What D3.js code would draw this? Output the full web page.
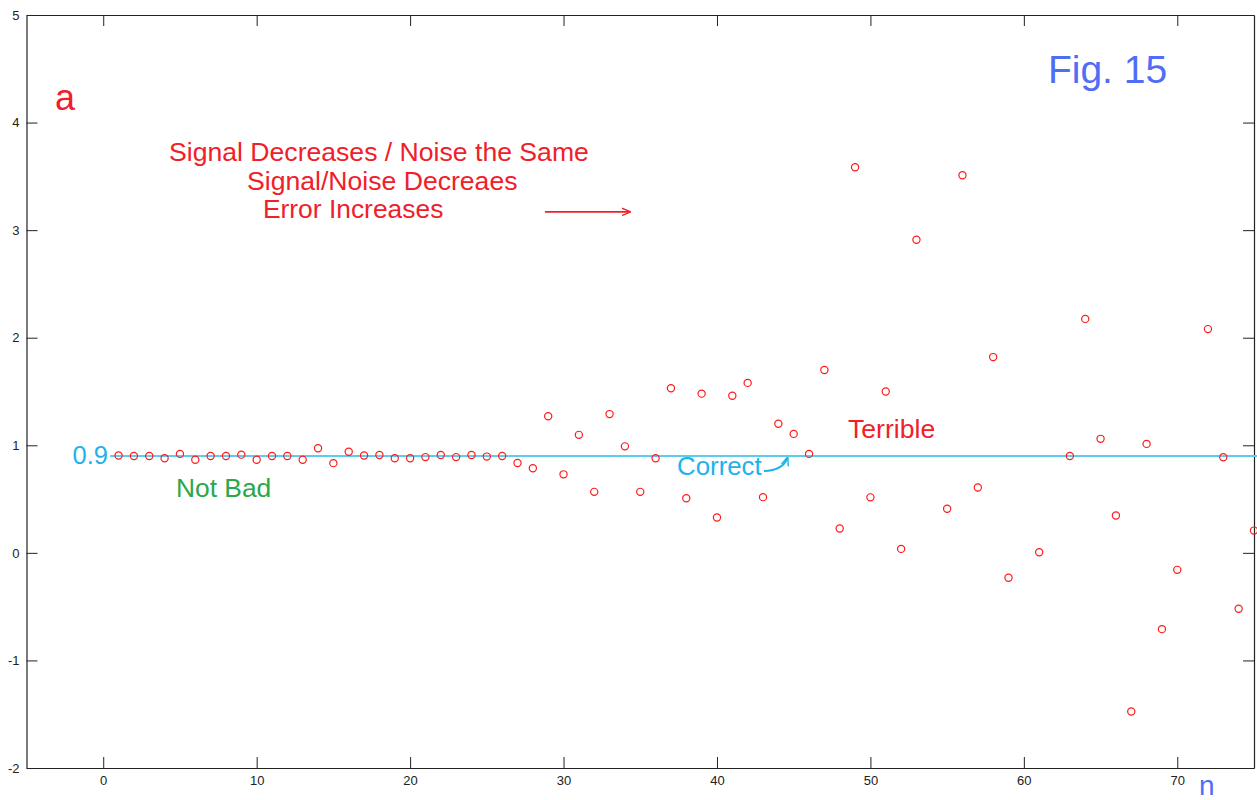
<!DOCTYPE html>
<html>
<head>
<meta charset="utf-8">
<script src="https://cdn.jsdelivr.net/npm/d3@7"></script>
<style>
  body { margin: 0; background: #fff; }
  svg { display: block; font-family: Arial, "Liberation Sans", sans-serif; }
  .axis path, .axis line { stroke: #222; }
  .axis text { fill: #222; }
</style>
</head>
<body>
<div id="chart"></div>
<script>
// sample index n = 1..75 (null = point falls outside the visible range)
var n_values = d3.range(1, 76);
var estimates = [
  0.905, 0.90, 0.90, 0.88, 0.92, 0.865, 0.90, 0.90, 0.913, 0.865,
  0.90, 0.90, 0.865, 0.973, 0.834, 0.94, 0.905, 0.91, 0.88, 0.88,
  0.89, 0.91, 0.89, 0.91, 0.895, 0.90, 0.836, 0.787, 1.27, 0.73,
  1.097, 0.567, 1.29, 0.99, 0.567, 0.88, 1.53, 0.508, 1.48, 0.328,
  1.46, 1.58, 0.518, 1.20, 1.106, 0.92, 1.70, 0.226, 3.585, 0.516,
  1.50, 0.037, 2.91, null, 0.41, 3.51, 0.607, 1.82, -0.232, null,
  0.006, null, 0.90, 2.175, 1.06, 0.347, -1.475, 1.013, -0.709, -0.158,
  null, 2.08, 0.889, -0.52, 0.207
];
var correct_value = 0.9;
var correct_span = [0.45, 75.2];
var x_ticks = [0, 10, 20, 30, 40, 50, 60, 70];
var y_ticks = [-2, -1, 0, 1, 2, 3, 4, 5];

var width = 1257, height = 800;
var svg = d3.select('#chart').append('svg').attr('width', width).attr('height', height);

var x_scale = d3.scaleLinear().domain([-5, 75]).range([26.5, 1254]);
var y_scale = d3.scaleLinear().domain([-2, 5]).range([768, 15]);
var plain = d => String(d); // keep the ascii minus like the original

// box axes, ticks pointing inward (matlab style)
svg.append('g').attr('class', 'axis')
    .attr('transform', 'translate(0,' + y_scale(-2) + ')')
    .call(d3.axisBottom(x_scale).tickValues(x_ticks).tickFormat(plain).tickSizeInner(-11).tickSizeOuter(0).tickPadding(8));
svg.append('g').attr('class', 'axis')
    .attr('transform', 'translate(0,' + y_scale(5) + ')')
    .call(d3.axisTop(x_scale).tickValues(x_ticks).tickSizeInner(-11).tickSizeOuter(0).tickFormat(''));
svg.append('g').attr('class', 'axis')
    .attr('transform', 'translate(' + x_scale(-5) + ',0)')
    .call(d3.axisLeft(y_scale).tickValues(y_ticks).tickFormat(plain).tickSizeInner(-11).tickSizeOuter(0).tickPadding(7));
svg.append('g').attr('class', 'axis')
    .attr('transform', 'translate(' + x_scale(75) + ',0)')
    .call(d3.axisRight(y_scale).tickValues(y_ticks).tickSizeInner(-11).tickSizeOuter(0).tickFormat(''));
svg.selectAll('.axis').attr('font-size', 13).attr('font-family', 'Arial, "Liberation Sans", sans-serif');
svg.selectAll('.axis .domain').attr('stroke-width', 1.2);

// correct value line
svg.append('line')
    .attr('x1', x_scale(correct_span[0])).attr('x2', x_scale(correct_span[1]))
    .attr('y1', y_scale(correct_value)).attr('y2', y_scale(correct_value))
    .attr('stroke', '#5ccdf0').attr('stroke-width', 2);

// estimates
var points = n_values.map((n, i) => [n, estimates[i]]).filter(d => d[1] !== null);
svg.append('g').selectAll('circle').data(points).enter().append('circle')
    .attr('cx', d => x_scale(d[0]))
    .attr('cy', d => y_scale(d[1]))
    .attr('r', 3.6)
    .attr('fill', 'none')
    .attr('stroke', '#ff1a1a')
    .attr('stroke-width', 1.2);

// annotations
var red = '#f0202a', cyan = '#1db3ea';
var labels = [
    { t: 'a', n: -3.14, v: 4.117, size: 36, color: red },
    { t: 'Signal Decreases / Noise the Same', n: 4.29, v: 3.643, size: 26.6, color: red },
    { t: 'Signal/Noise Decreaes', n: 9.37, v: 3.374, size: 26.6, color: red },
    { t: 'Error Increases', n: 10.41, v: 3.114, size: 26.4, color: red },
    { t: 'Fig. 15', n: 61.57, v: 4.368, size: 39, color: '#4f6ef5' },
    { t: '0.9', n: 0.31, v: 0.826, size: 25.5, color: cyan, anchor: 'end' },
    { t: 'Not Bad', n: 4.74, v: 0.52, size: 26.4, color: '#2aa84a' },
    { t: 'Correct', n: 37.4, v: 0.724, size: 25.8, color: cyan },
    { t: 'Terrible', n: 48.54, v: 1.068, size: 26.6, color: red },
    { t: 'n', n: 71.41, v: -2.255, size: 28, color: '#4f6ef5' }
];
svg.append('g').selectAll('text').data(labels).enter().append('text')
    .attr('x', d => x_scale(d.n))
    .attr('y', d => y_scale(d.v))
    .attr('text-anchor', d => d.anchor || 'start')
    .attr('font-size', d => d.size + 'px')
    .attr('fill', d => d.color)
    .text(d => d.t);

var defs = svg.append('defs');
function arrow_marker(id, color) {
    defs.append('marker').attr('id', id)
        .attr('viewBox', '0 0 10 10').attr('refX', 9).attr('refY', 5)
        .attr('markerWidth', 9).attr('markerHeight', 9).attr('orient', 'auto')
        .attr('markerUnits', 'userSpaceOnUse')
        .append('path').attr('d', 'M0,1 L10,5 L0,9').attr('fill', 'none').attr('stroke', color).attr('stroke-width', 1.6);
}
arrow_marker('arrow_red', red);
arrow_marker('arrow_cyan', cyan);

// straight arrow next to "Error Increases"
svg.append('line')
    .attr('x1', x_scale(28.79)).attr('x2', x_scale(34.33))
    .attr('y1', y_scale(3.17)).attr('y2', y_scale(3.17))
    .attr('stroke', red).attr('stroke-width', 1.6)
    .attr('marker-end', 'url(#arrow_red)');

// little curved arrow after "Correct"
var p = d3.path();
p.moveTo(x_scale(43.06), y_scale(0.76));
p.quadraticCurveTo(x_scale(44.3), y_scale(0.765), x_scale(44.6), y_scale(0.885));
svg.append('path').attr('d', p.toString())
    .attr('fill', 'none').attr('stroke', cyan).attr('stroke-width', 2)
    .attr('marker-end', 'url(#arrow_cyan)');
</script>
</body>
</html>
